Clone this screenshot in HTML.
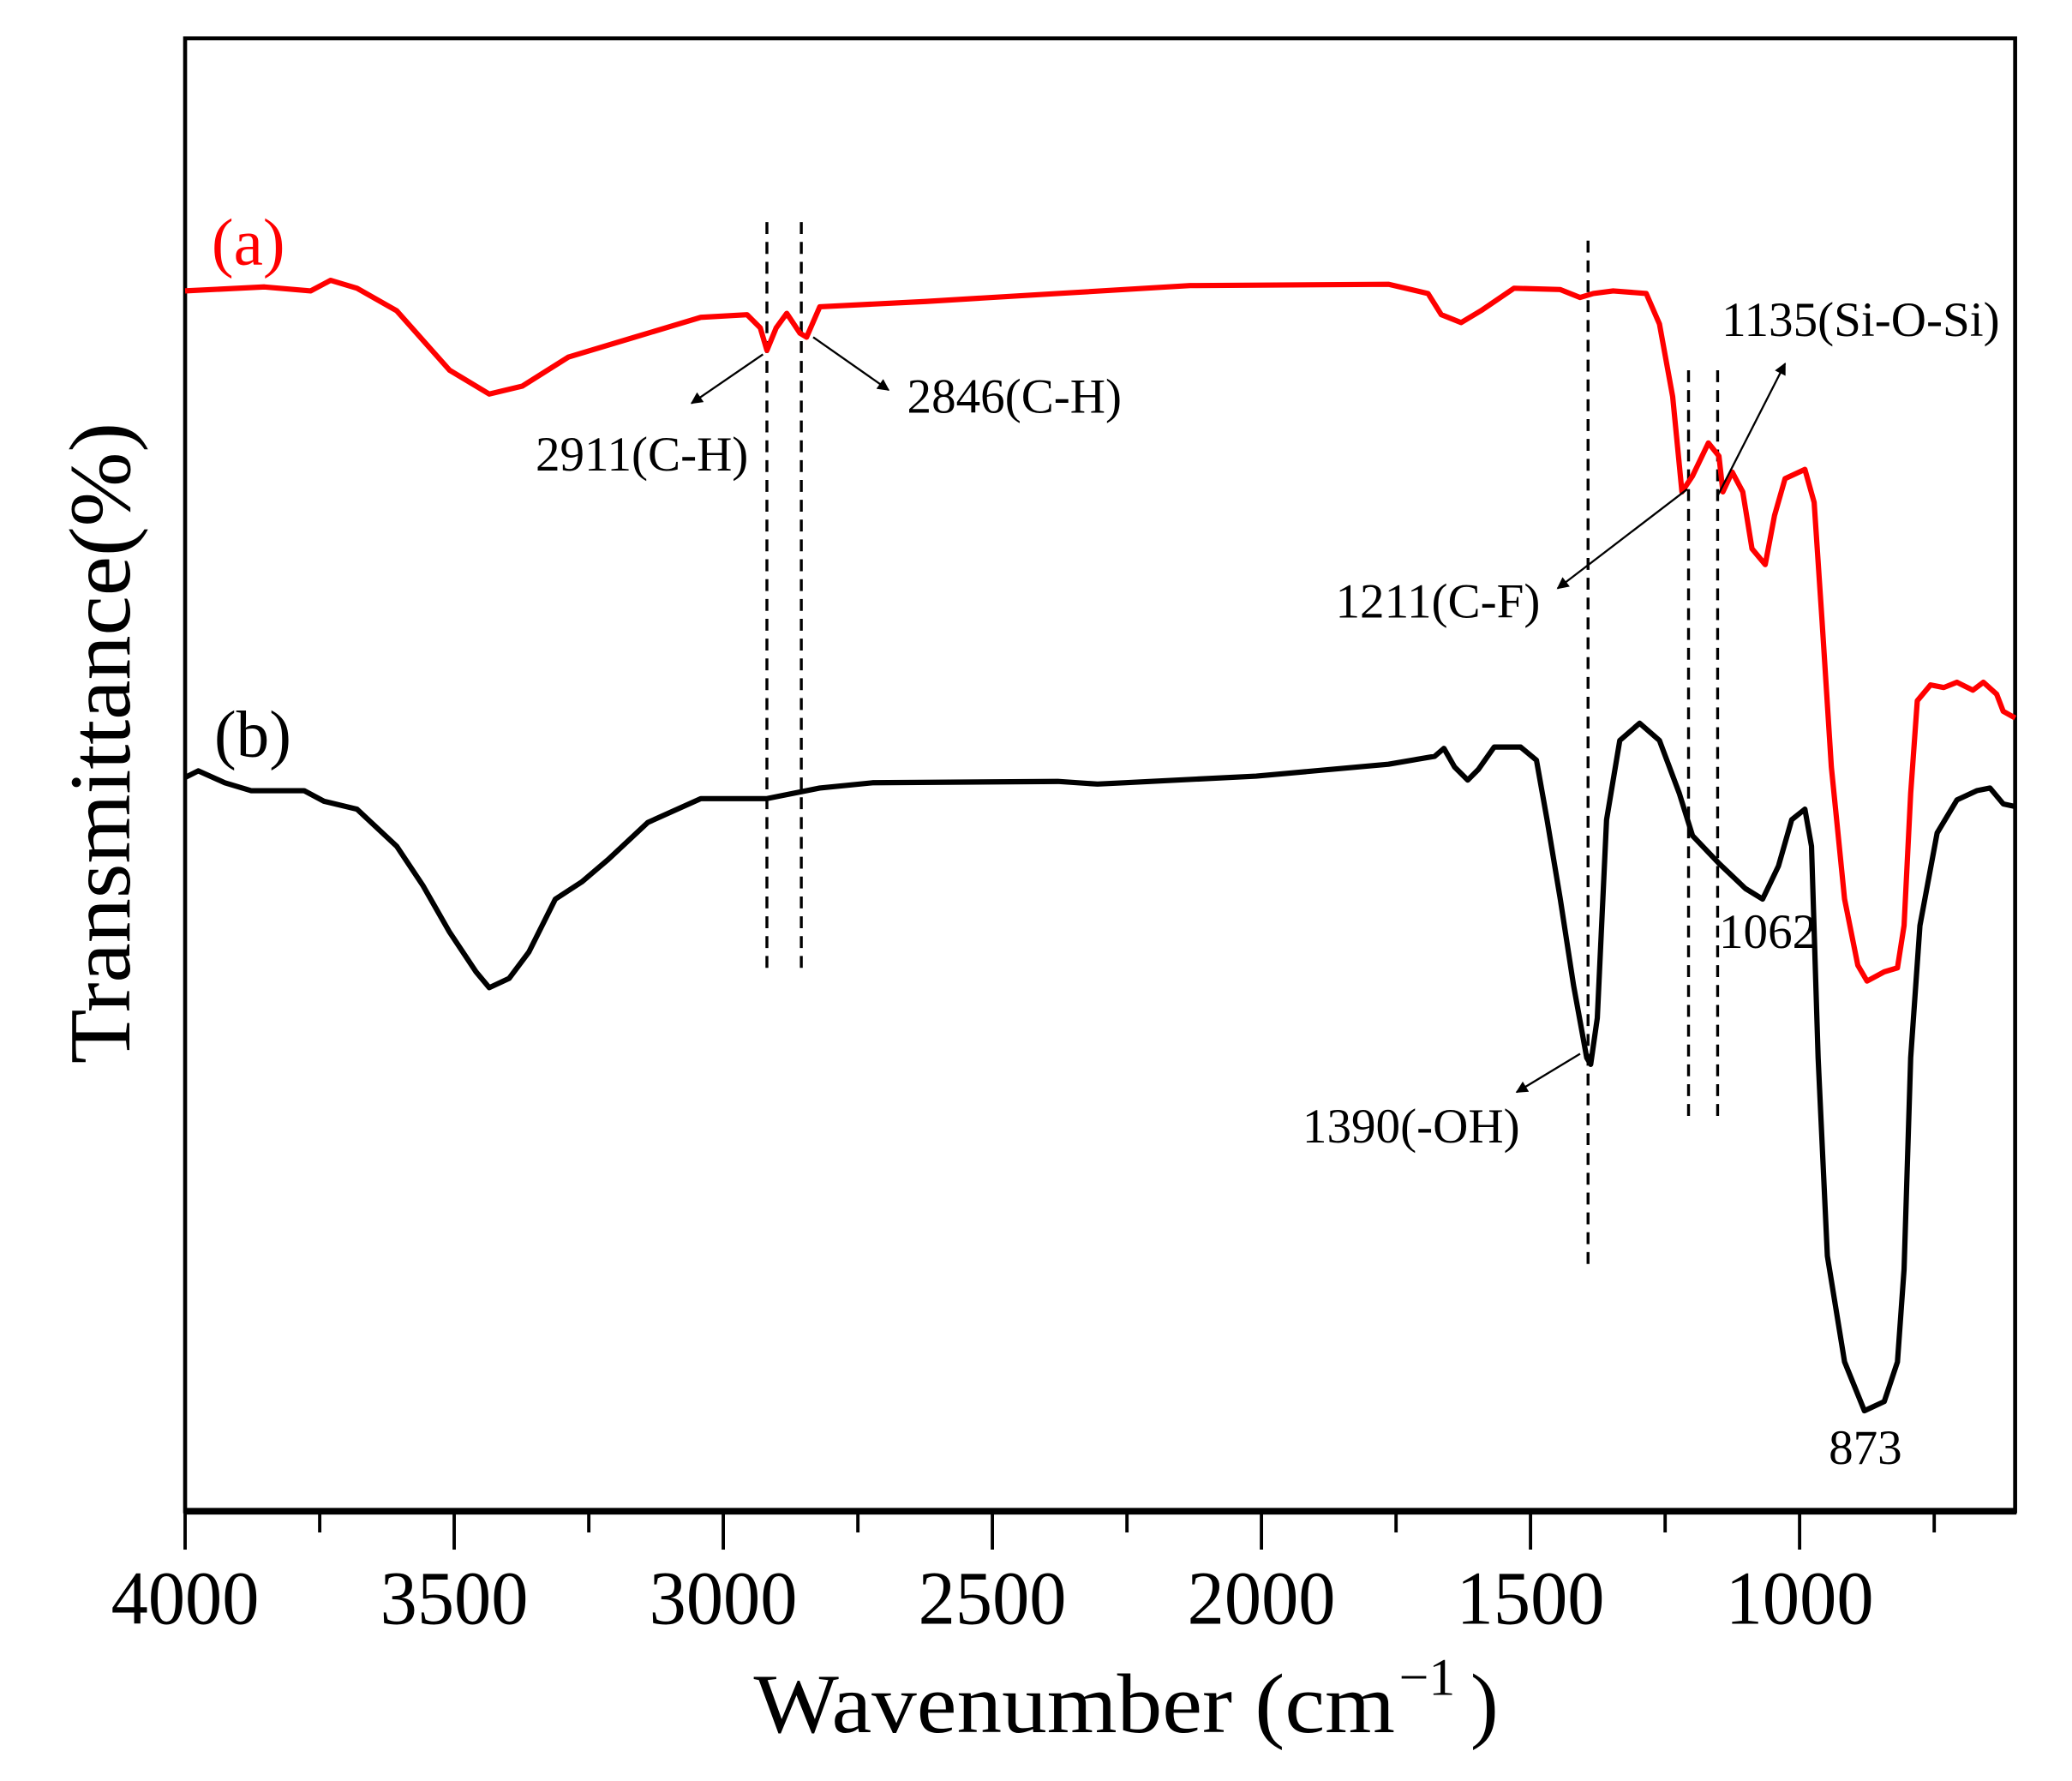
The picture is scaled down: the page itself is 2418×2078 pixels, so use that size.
<!DOCTYPE html>
<html><head><meta charset="utf-8"><style>html,body{margin:0;padding:0;background:#fff}svg{display:block}</style></head>
<body>
<svg width="2418" height="2078" viewBox="0 0 1567 1347" preserveAspectRatio="none" xmlns="http://www.w3.org/2000/svg" font-family="Liberation Serif, serif">
<defs>
<marker id="ah" viewBox="0 0 10 10" refX="9" refY="5" markerWidth="13" markerHeight="9" orient="auto" markerUnits="userSpaceOnUse"><path d="M0,0 L10,5 L0,10 z" fill="#000"/></marker>
</defs>
<rect x="140" y="29" width="1384" height="1114" fill="none" stroke="#000" stroke-width="3"/>
<line x1="139" y1="1143" x2="1525" y2="1143" stroke="#000" stroke-width="5"/>
<g stroke="#000" stroke-width="2.5">
<line x1="140" y1="1143" x2="140" y2="1172"/><line x1="343.5" y1="1143" x2="343.5" y2="1172"/><line x1="547" y1="1143" x2="547" y2="1172"/><line x1="750.5" y1="1143" x2="750.5" y2="1172"/><line x1="954" y1="1143" x2="954" y2="1172"/><line x1="1157.5" y1="1143" x2="1157.5" y2="1172"/><line x1="1361" y1="1143" x2="1361" y2="1172"/>
<line x1="241.8" y1="1143" x2="241.8" y2="1159"/><line x1="445.3" y1="1143" x2="445.3" y2="1159"/><line x1="648.8" y1="1143" x2="648.8" y2="1159"/><line x1="852.3" y1="1143" x2="852.3" y2="1159"/><line x1="1055.8" y1="1143" x2="1055.8" y2="1159"/><line x1="1259.3" y1="1143" x2="1259.3" y2="1159"/><line x1="1462.8" y1="1143" x2="1462.8" y2="1159"/>
</g>
<g font-size="58" text-anchor="middle" fill="#000">
<text x="140" y="1228" textLength="112" lengthAdjust="spacingAndGlyphs">4000</text>
<text x="343.5" y="1228" textLength="112" lengthAdjust="spacingAndGlyphs">3500</text>
<text x="547" y="1228" textLength="112" lengthAdjust="spacingAndGlyphs">3000</text>
<text x="750.5" y="1228" textLength="112" lengthAdjust="spacingAndGlyphs">2500</text>
<text x="954" y="1228" textLength="112" lengthAdjust="spacingAndGlyphs">2000</text>
<text x="1157.5" y="1228" textLength="112" lengthAdjust="spacingAndGlyphs">1500</text>
<text x="1361" y="1228" textLength="112" lengthAdjust="spacingAndGlyphs">1000</text>
</g>
<text x="570" y="1310" font-size="64" textLength="485" lengthAdjust="spacingAndGlyphs">Wavenumber (cm</text>
<text x="1058" y="1282" font-size="40">−1</text>
<text x="1112" y="1310" font-size="64">)</text>
<text transform="translate(98,562) rotate(-90)" font-size="66" text-anchor="middle" textLength="485" lengthAdjust="spacingAndGlyphs">Transmittance(%)</text>
<g stroke="#000" stroke-width="2.2" stroke-dasharray="9,6">
<line x1="580" y1="168" x2="580" y2="735"/><line x1="606" y1="168" x2="606" y2="735"/>
<line x1="1201" y1="182" x2="1201" y2="958"/><line x1="1277" y1="280" x2="1277" y2="847"/><line x1="1299" y1="280" x2="1299" y2="847"/>
</g>
<polyline fill="none" stroke="#f00" stroke-width="4" stroke-linejoin="round" points="140,220 200,217 235,220 250,212 270,218 300,235 340,280 370,298 395,292 430,270 480,255 530,240 565,238 575,248 580,265 587,248 595,237 605,252 610,255 620,232 700,228 800,222 900,216 1050,215 1080,222 1090,238 1105,244 1120,235 1145,218 1180,219 1195,225 1205,222 1220,220 1245,222 1255,245 1265,300 1272,372 1280,360 1292,335 1300,345 1303,372 1310,357 1318,372 1325,415 1335,427 1342,390 1350,362 1365,355 1372,380 1378,470 1385,580 1395,680 1405,730 1412,742 1425,735 1435,732 1440,700 1445,600 1450,530 1460,518 1470,520 1480,516 1492,522 1500,516 1510,525 1515,538 1524,543"/>
<polyline fill="none" stroke="#000" stroke-width="4" stroke-linejoin="round" points="140,588 150,583 170,592 190,598 230,598 245,606 270,612 300,640 320,670 340,705 360,735 370,747 385,740 400,720 420,680 440,667 460,650 490,622 530,604 580,604 620,596 660,592 800,591 830,593 850,592 950,587 1050,578 1085,572 1092,566 1100,580 1110,590 1118,582 1130,565 1150,565 1162,575 1170,620 1180,680 1190,745 1200,800 1203,805 1208,770 1215,620 1225,560 1240,547 1255,560 1270,600 1280,632 1300,653 1320,672 1333,680 1345,655 1355,620 1365,612 1370,640 1375,800 1382,950 1395,1030 1410,1067 1425,1060 1435,1030 1440,960 1445,800 1452,700 1465,630 1480,605 1495,598 1505,596 1515,608 1524,610"/>
<g stroke="#000" stroke-width="1.5" marker-end="url(#ah)">
<line x1="577" y1="268" x2="523" y2="305"/>
<line x1="615" y1="255" x2="672" y2="295"/>
<line x1="1299" y1="375" x2="1350" y2="275"/>
<line x1="1276" y1="370" x2="1178" y2="445"/>
<line x1="1195" y1="797" x2="1147" y2="826"/>
</g>
<g font-size="37" fill="#000">
<text x="405" y="356">2911(C-H)</text>
<text x="686" y="312">2846(C-H)</text>
<text x="1302" y="254">1135(Si-O-Si)</text>
<text x="1010" y="467">1211(C-F)</text>
<text x="985" y="864">1390(-OH)</text>
<text x="1300" y="717">1062</text>
<text x="1383" y="1107">873</text>
</g>
<text x="160" y="200" font-size="50" fill="#f00">(a)</text>
<text x="162" y="572" font-size="50" fill="#000">(b)</text>
</svg>
</body></html>
